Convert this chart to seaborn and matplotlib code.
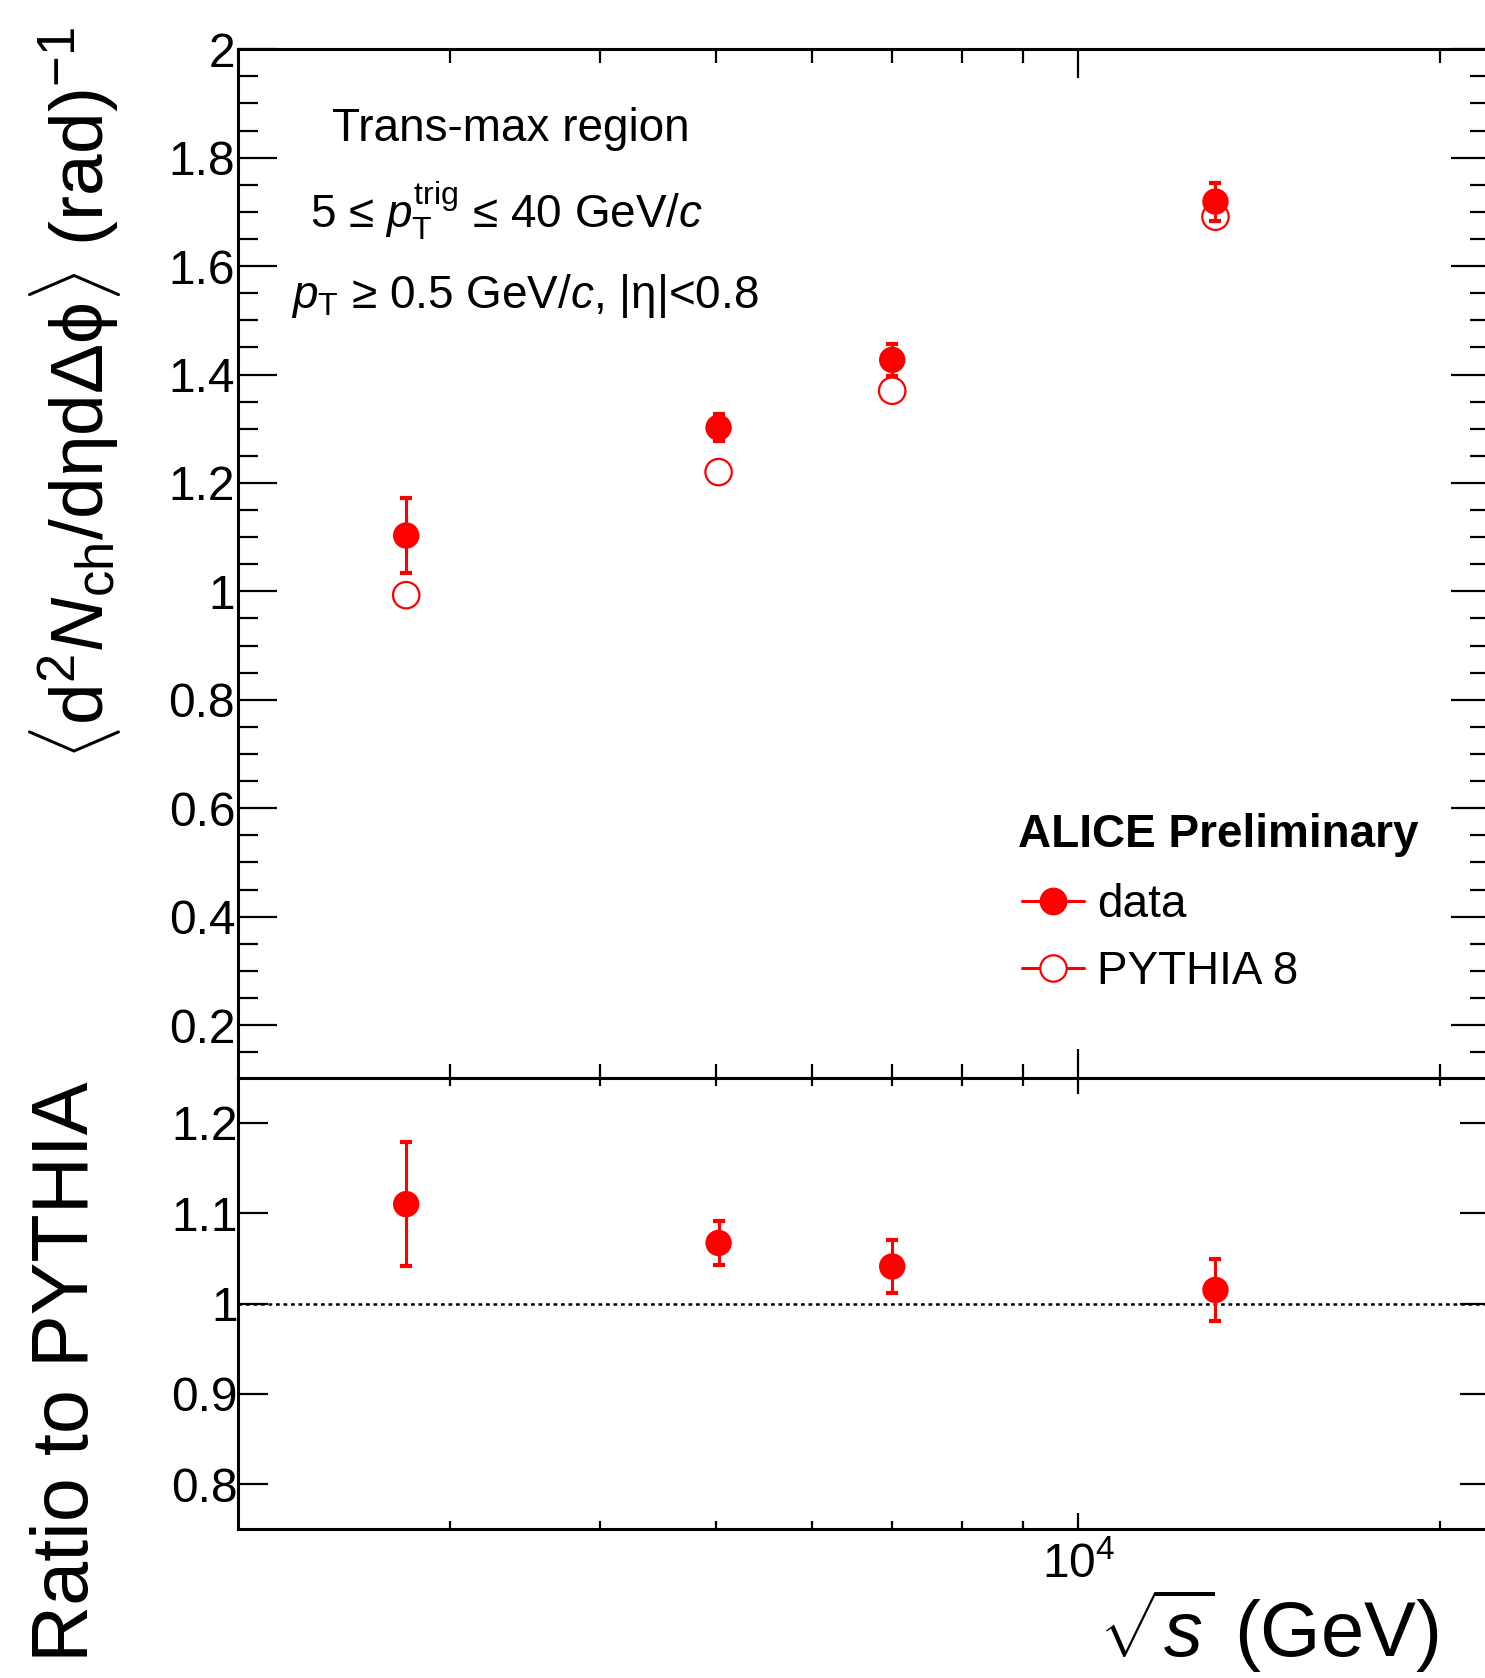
import numpy as np
import pandas as pd
import matplotlib
matplotlib.use("Agg")
import matplotlib.pyplot as plt
import seaborn as sns
from matplotlib.ticker import FixedLocator, FuncFormatter, NullFormatter, NullLocator
from matplotlib.lines import Line2D

# ---------------- data ----------------
energies = [2760, 5020, 7000, 13000]           # sqrt(s) in GeV
data_vals = [1.103, 1.302, 1.427, 1.719]
data_err = [0.069, 0.025, 0.030, 0.035]
pythia_vals = [0.993, 1.220, 1.370, 1.691]
ratio_vals = [1.110, 1.067, 1.041, 1.015]
ratio_err = [0.069, 0.024, 0.029, 0.0345]

top_yticks = [0.2, 0.4, 0.6, 0.8, 1.0, 1.2, 1.4, 1.6, 1.8, 2.0]
bot_yticks = [0.8, 0.9, 1.0, 1.1, 1.2]
x_major = [1e4]
x_minor = [3000, 4000, 5000, 6000, 7000, 8000, 9000, 20000]

df_top = pd.DataFrame({"energy": energies, "data": data_vals, "pythia": pythia_vals})
df_bot = pd.DataFrame({"energy": energies, "ratio": ratio_vals})

# ---------------- style ----------------
sns.set_theme(style="ticks")
plt.rcParams["font.family"] = ["Liberation Sans", "DejaVu Sans"]
plt.rcParams["mathtext.fontset"] = "custom"
plt.rcParams["mathtext.rm"] = "Liberation Sans"
plt.rcParams["mathtext.it"] = "Liberation Sans:italic"
plt.rcParams["mathtext.bf"] = "Liberation Sans:bold"
plt.rcParams["mathtext.sf"] = "Liberation Sans"
for k in ["text.color", "axes.labelcolor", "xtick.color", "ytick.color",
          "xtick.labelcolor", "ytick.labelcolor", "axes.edgecolor"]:
    plt.rcParams[k] = "black"

W, H = 1485, 1678
fig = plt.figure(figsize=(W / 100, H / 100), dpi=100)
fig.patch.set_facecolor("white")

left = 238 / W
right_px = 1490.2
width = (right_px - 238) / W
top_y0, top_y1 = 49.2, 1077.7
bot_y1 = 1529.3

ax = fig.add_axes([left, 1 - top_y1 / H, width, (top_y1 - top_y0) / H])
axr = fig.add_axes([left, 1 - bot_y1 / H, width, (bot_y1 - top_y1) / H])

RED = "#ff0000"
TICKFS = 34.5

for a in (ax, axr):
    a.set_facecolor("white")
    a.set_xscale("log")
    a.set_xlim(2000, 22000)
    for s in a.spines.values():
        s.set_linewidth(2.2)
        s.set_color("black")
        s.set_visible(True)
    a.xaxis.set_major_locator(FixedLocator(x_major))
    a.xaxis.set_minor_locator(FixedLocator(x_minor))
    a.xaxis.set_minor_formatter(NullFormatter())
    a.grid(False)

fmt = FuncFormatter(lambda v, p: f"{v:g}")

# ---- top panel ----
ax.set_ylim(0.103, 2.0)
ax.yaxis.set_major_locator(FixedLocator(top_yticks))
ax.yaxis.set_minor_locator(FixedLocator(np.arange(0.15, 2.0, 0.05).round(2).tolist()))
ax.yaxis.set_major_formatter(fmt)
ax.xaxis.set_major_formatter(NullFormatter())
ax.tick_params(axis="both", which="both", direction="in", top=True, right=True,
               width=1.6, color="black", labelsize=TICKFS, pad=2, labelcolor="black")
ax.tick_params(axis="x", which="major", length=21)
ax.tick_params(axis="x", which="minor", length=10)
ax.tick_params(axis="y", which="major", length=28)
ax.tick_params(axis="y", which="minor", length=14.5)

sns.scatterplot(data=df_top, x="energy", y="pythia", ax=ax, marker="o", s=19**2,
                facecolor="none", edgecolor=RED, linewidth=1.6, zorder=2, legend=False)
ax.errorbar(df_top["energy"], df_top["data"], yerr=data_err, fmt="none", ecolor=RED,
            elinewidth=2.2, capsize=4, capthick=3, zorder=3)
sns.scatterplot(data=df_top, x="energy", y="data", ax=ax, marker="o", s=19**2,
                color=RED, edgecolor="none", linewidth=0, zorder=4, legend=False)
ax.set_xlabel("")
ax.set_ylabel("")

# ---- bottom panel ----
axr.set_ylim(0.75, 1.25)
axr.yaxis.set_major_locator(FixedLocator(bot_yticks))
axr.yaxis.set_minor_locator(NullLocator())
axr.yaxis.set_major_formatter(fmt)
axr.xaxis.set_major_formatter(FuncFormatter(lambda v, p: r"$10^{4}$" if abs(v - 1e4) < 1 else ""))
axr.tick_params(axis="both", which="both", direction="in", top=True, right=True,
                width=1.6, color="black", labelsize=TICKFS, labelcolor="black")
axr.tick_params(axis="y", which="major", length=21.6, pad=0)
axr.tick_params(axis="x", which="major", length=11.5, pad=10)
axr.tick_params(axis="x", which="minor", length=5.5)

axr.axhline(1.0, color="black", lw=1.8, ls=(0, (1.5, 1.5)), zorder=1)
axr.errorbar(df_bot["energy"], df_bot["ratio"], yerr=ratio_err, fmt="none", ecolor=RED,
             elinewidth=2.2, capsize=4, capthick=3, zorder=3)
sns.scatterplot(data=df_bot, x="energy", y="ratio", ax=axr, marker="o", s=19**2,
                color=RED, edgecolor="none", linewidth=0, zorder=4, legend=False)
axr.set_xlabel("")
axr.set_ylabel("")

# ---- axis titles ----
fig.text(75 / W, 1 - 27 / H,
         r"$\langle\mathrm{d}^{2}N_{\mathrm{ch}}/\mathrm{d\eta d\Delta\phi}\rangle$ (rad)$^{\mathrm{-1}}$",
         rotation=90, ha="center", va="top", fontsize=54, color="black")
fig.text(68 / W, 1 - 1081 / H, "Ratio to PYTHIA", rotation=90, ha="center", va="top",
         fontsize=57, color="black")
fig.text(1439 / W, 1 - 1657 / H, r"$\sqrt{s}$ (GeV)", ha="right", va="baseline",
         fontsize=56, color="black")

# ---- annotations ----
TXT = 33
fig.text(332 / W, 1 - 141 / H, "Trans-max region", ha="left", va="baseline", fontsize=TXT)
fig.text(310 / W, 1 - 227 / H, r"5 ≤ $p_{\mathrm{T}}^{\mathrm{trig}}$ ≤ 40 GeV/$c$",
         ha="left", va="baseline", fontsize=TXT)
fig.text(291 / W, 1 - 308 / H, r"$p_{\mathrm{T}}$ ≥ 0.5 GeV/$c$, |η|<0.8",
         ha="left", va="baseline", fontsize=TXT)
fig.text(1018.5 / W, 1 - 847 / H, "ALICE Preliminary", ha="left", va="baseline",
         fontsize=TXT, fontweight="bold")

handles = [
    Line2D([], [], color=RED, lw=2.2, marker="o", markersize=19, markerfacecolor=RED,
           markeredgecolor=RED),
    Line2D([], [], color=RED, lw=2.2, marker="o", markersize=19, markerfacecolor="white",
           markeredgecolor=RED, markeredgewidth=1.6),
]
fs_px = TXT * 100 / 72
leg = ax.legend(handles, ["data", "PYTHIA 8"], loc="upper left",
                bbox_to_anchor=(1022 / W, 1 - 883 / H), bbox_transform=fig.transFigure,
                frameon=False, fontsize=TXT, borderpad=0, borderaxespad=0,
                handlelength=62 / fs_px, handletextpad=13 / fs_px, labelspacing=0.5)
for t in leg.get_texts():
    t.set_color("black")

fig.savefig("out.png", dpi=100, facecolor="white")
